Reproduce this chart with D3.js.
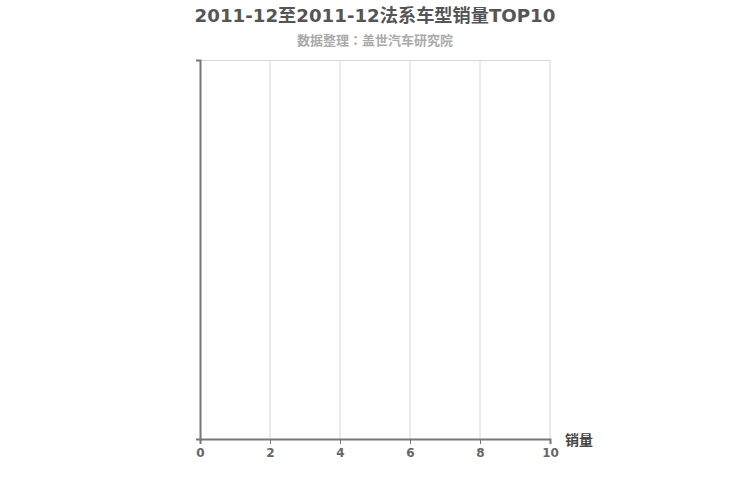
<!DOCTYPE html>
<html>
<head>
<meta charset="utf-8">
<script src="https://cdn.jsdelivr.net/npm/d3@7"></script>
<style>
  body { margin: 0; background: #fff; }
  svg { font-family: "DejaVu Sans", "Noto Sans CJK SC", sans-serif; }
</style>
</head>
<body>
<svg width="750" height="500"></svg>
<script>
// no models reported for this period, so the chart is empty
const models = [];
const sales = [];
const xTicks = [0, 2, 4, 6, 8, 10];

const titleText = '2011-12至2011-12法系车型销量TOP10';
const subtitleText = '数据整理：盖世汽车研究院';
const xName = '销量';

const margin = {top: 60, left: 200, right: 200, bottom: 61};
const width = 750;
const height = 500;

const svg = d3.select('svg');

svg.append('rect')
    .attr('width', width)
    .attr('height', height)
    .attr('fill', '#fff');

const xScale = d3.scaleLinear()
    .domain([0, d3.max(sales.concat(xTicks))])
    .range([margin.left, width - margin.right]);

const yScale = d3.scaleBand()
    .domain(models)
    .range([margin.top, height - margin.bottom])
    .padding(0.3);

// grid
svg.append('g')
    .selectAll('line')
    .data(xTicks.slice(1))
    .join('line')
    .attr('x1', d => xScale(d))
    .attr('x2', d => xScale(d))
    .attr('y1', margin.top)
    .attr('y2', height - margin.bottom)
    .attr('stroke', '#d6d6d6')
    .attr('stroke-width', 1);

svg.append('line')
    .attr('x1', margin.left)
    .attr('x2', width - margin.right)
    .attr('y1', margin.top + 0.5)
    .attr('y2', margin.top + 0.5)
    .attr('stroke', '#d6d6d6');

// bars
svg.append('g')
    .selectAll('rect')
    .data(models)
    .join('rect')
    .attr('x', xScale(0))
    .attr('y', d => yScale(d))
    .attr('height', yScale.bandwidth())
    .attr('width', (d, i) => xScale(sales[i]) - xScale(0))
    .attr('fill', '#5b9bd5');

// x-axis
const xAxis = svg.append('g')
    .attr('transform', `translate(0, ${height - margin.bottom})`)
    .call(d3.axisBottom(xScale).tickValues(xTicks).tickSizeOuter(0).tickSize(5).tickPadding(4));
xAxis.select('.domain').attr('stroke', '#777').attr('stroke-width', 2);
xAxis.selectAll('.tick line').attr('stroke', '#777');
xAxis.selectAll('.tick text')
    .attr('fill', '#666')
    .attr('font-size', 12)
    .attr('font-weight', 'bold')
    .attr('font-family', '"DejaVu Sans", sans-serif');

// y-axis
const yAxis = svg.append('g')
    .attr('transform', `translate(${margin.left}, 0)`)
    .call(d3.axisLeft(yScale).tickSizeOuter(4));
yAxis.select('.domain').attr('stroke', '#777').attr('stroke-width', 2);

svg.append('text')
    .attr('x', xScale(10) + 15)
    .attr('y', height - margin.bottom + 6)
    .attr('font-size', 14)
    .attr('font-weight', 'bold')
    .attr('fill', '#444')
    .text(xName);

svg.append('text')
    .attr('x', width / 2)
    .attr('y', 22)
    .attr('text-anchor', 'middle')
    .attr('font-size', 18.2)
    .attr('font-weight', 'bold')
    .attr('fill', '#555')
    .text(titleText);

svg.append('text')
    .attr('x', width / 2)
    .attr('y', 45)
    .attr('text-anchor', 'middle')
    .attr('font-size', 13)
    .attr('font-weight', 'bold')
    .attr('font-family', '"Noto Sans CJK JP", sans-serif')
    .attr('fill', '#aaa')
    .text(subtitleText);
</script>
</body>
</html>
